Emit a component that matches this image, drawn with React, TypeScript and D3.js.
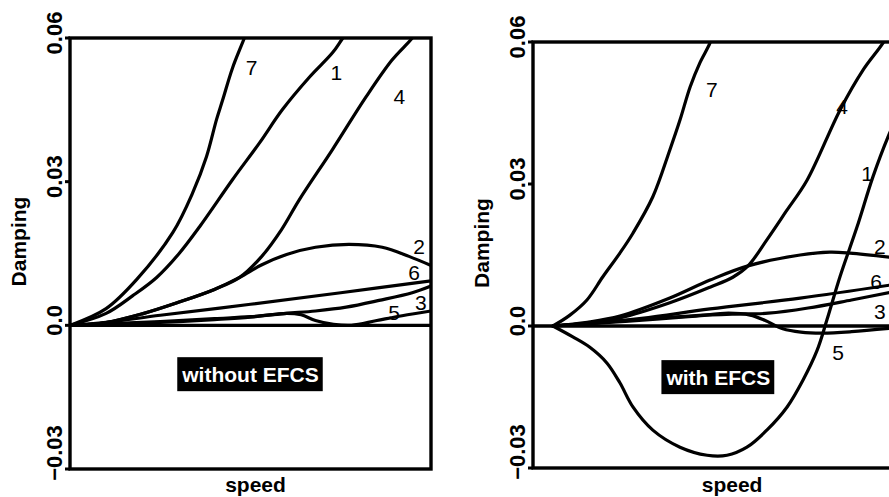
import React, { useEffect, useRef } from 'react';
import * as d3 from 'd3';

type Pt = [number, number];

// ---- axis ticks ----
const tickValues: number[] = [0.06, 0.03, 0.0, -0.03];
const tickLabels: string[] = ['0.06', '0.03', '0.0', '\u22120.03'];
const yTitle = 'Damping';
const xTitle = 'speed';

// ---- panel A: without EFCS (x = normalised speed, y = damping) ----
const without1: Pt[] = [[0, 0], [0.1, 0.0025], [0.174, 0.0062], [0.24, 0.0100], [0.3, 0.0148], [0.359, 0.0206], [0.45, 0.0304], [0.525, 0.0381], [0.588, 0.045], [0.663, 0.0518], [0.727, 0.0569], [0.754, 0.0598], [0.78, 0.0625]];
const without2: Pt[] = [[0, 0], [0.1, 0.0006], [0.2, 0.0024], [0.3, 0.0048], [0.4, 0.0075], [0.47, 0.0100], [0.53, 0.0126], [0.6, 0.0148], [0.68, 0.0163], [0.773, 0.0169], [0.865, 0.0163], [0.939, 0.0144], [1.0, 0.0125]];
const without3: Pt[] = [[0, 0], [0.1, 0.0003], [0.25, 0.0008], [0.4, 0.0014], [0.5, 0.0018], [0.6, 0.0025], [0.68, 0.003], [0.765, 0.0038], [0.856, 0.0052], [0.948, 0.0068], [1.0, 0.0082]];
const without4: Pt[] = [[0, 0], [0.1, 0.0006], [0.2, 0.0024], [0.3, 0.0048], [0.4, 0.0075], [0.47, 0.0100], [0.53, 0.0143], [0.586, 0.0200], [0.635, 0.0262], [0.727, 0.0367], [0.82, 0.0477], [0.892, 0.0554], [0.948, 0.0600], [0.97, 0.0625]];
const without5: Pt[] = [[0, 0], [0.1, 0.0002], [0.25, 0.0006], [0.4, 0.0012], [0.5, 0.0017], [0.6, 0.0025], [0.64, 0.0022], [0.68, 0.0010], [0.73, 0.0002], [0.78, 0.0], [0.85, 0.0010], [0.92, 0.0020], [1.0, 0.0030]];
const without6: Pt[] = [[0, 0], [0.1, 0.0006], [0.25, 0.0021], [0.5, 0.0044], [0.75, 0.0068], [1.0, 0.0093]];
const without7: Pt[] = [[0, 0], [0.1, 0.0035], [0.185, 0.0096], [0.285, 0.0194], [0.34, 0.0277], [0.378, 0.0352], [0.406, 0.0430], [0.423, 0.0471], [0.45, 0.0537], [0.483, 0.0600], [0.5, 0.0635]];

// ---- panel B: with EFCS ----
const with1: Pt[] = [[0.055, 0], [0.11, -0.0023], [0.157, -0.0045], [0.204, -0.0078], [0.24, -0.0120], [0.276, -0.0171], [0.331, -0.022], [0.406, -0.0256], [0.481, -0.0273], [0.536, -0.0273], [0.591, -0.0256], [0.646, -0.022], [0.702, -0.0171], [0.746, -0.0114], [0.785, -0.0051], [0.812, 0.0013], [0.848, 0.0104], [0.895, 0.0209], [0.939, 0.0315], [0.981, 0.0400], [1.0, 0.0432]];
const with2: Pt[] = [[0.055, 0], [0.15, 0.0008], [0.24, 0.0021], [0.378, 0.0059], [0.489, 0.0097], [0.594, 0.0127], [0.738, 0.0150], [0.82, 0.0156], [0.876, 0.0154], [1.0, 0.0144]];
const with3: Pt[] = [[0.055, 0], [0.2, 0.0008], [0.35, 0.0017], [0.45, 0.0022], [0.55, 0.0025], [0.65, 0.0027], [0.76, 0.0038], [0.88, 0.0055], [1.0, 0.0073]];
const with4: Pt[] = [[0.055, 0], [0.15, 0.0006], [0.24, 0.0017], [0.378, 0.0049], [0.489, 0.0082], [0.552, 0.0103], [0.594, 0.0127], [0.646, 0.0182], [0.7, 0.0243], [0.757, 0.0308], [0.848, 0.0456], [0.912, 0.0541], [0.967, 0.0598], [0.99, 0.0630]];
const with5: Pt[] = [[0.055, 0], [0.2, 0.0007], [0.35, 0.0015], [0.45, 0.0021], [0.54, 0.0027], [0.6, 0.0023], [0.64, 0.0012], [0.69, -0.0006], [0.74, -0.0013], [0.8, -0.0015], [0.88, -0.0012], [1.0, -0.0004]];
const with6: Pt[] = [[0.055, 0], [0.15, 0.0005], [0.3, 0.0016], [0.489, 0.0036], [0.738, 0.0059], [1.0, 0.0088]];
const with7: Pt[] = [[0.055, 0], [0.102, 0.0023], [0.149, 0.0055], [0.193, 0.0104], [0.24, 0.0154], [0.276, 0.0196], [0.331, 0.0273], [0.378, 0.0372], [0.406, 0.0435], [0.434, 0.0505], [0.461, 0.0556], [0.489, 0.0598], [0.5, 0.0625]];

// ---- mode names and label anchors (data coords) ----
const modeNames: string[] = ['1', '2', '3', '4', '5', '6', '7'];
const withoutLabelAt: Pt[] = [[0.738, 0.0529], [0.967, 0.0165], [0.972, 0.0048], [0.912, 0.0477], [0.898, 0.0027], [0.953, 0.0110], [0.503, 0.0538]];
const withLabelAt: Pt[] = [[0.923, 0.0323], [0.958, 0.0167], [0.958, 0.0030], [0.854, 0.0463], [0.843, -0.0055], [0.948, 0.0093], [0.494, 0.0499]];

const panelTitles: string[] = ['without EFCS', 'with EFCS'];
const titleBoxAt: Pt[] = [[0.5, -0.0102], [0.512, -0.0108]];

const panels = [
  { x0: 70, x1: 431, yTop: 38, yBottom: 469, series: [without1, without2, without3, without4, without5, without6, without7], labels: withoutLabelAt, xTitleAt: 0.514 },
  { x0: 533, x1: 895, yTop: 42, yBottom: 468, series: [with1, with2, with3, with4, with5, with6, with7], labels: withLabelAt, xTitleAt: 0.55 },
];

export default function App() {
  const ref = useRef<SVGSVGElement>(null);
  useEffect(() => {
    const svg = d3.select(ref.current!);
    svg.selectAll('*').remove();
    const font = '"Liberation Sans", Arial, Helvetica, sans-serif';
    const defs = svg.append('defs');

    panels.forEach((p, i) => {
      const x = d3.scaleLinear().domain([0, 1]).range([p.x0, p.x1]);
      const y = d3.scaleLinear().domain([-0.03, 0.06]).range([p.yBottom, p.yTop]);
      const clipId = 'plotclip' + i;
      defs.append('clipPath').attr('id', clipId).append('rect')
        .attr('x', p.x0).attr('y', p.yTop).attr('width', p.x1 - p.x0).attr('height', p.yBottom - p.yTop);

      const g = svg.append('g');
      const line = d3.line<Pt>().x(d => x(d[0])).y(d => y(d[1])).curve(d3.curveCatmullRom.alpha(0.5));

      // zero line
      g.append('line').attr('x1', p.x0).attr('x2', p.x1).attr('y1', y(0)).attr('y2', y(0))
        .attr('stroke', '#000').attr('stroke-width', 3.4);

      // curves
      const cg = g.append('g').attr('clip-path', `url(#${clipId})`);
      p.series.forEach(s => {
        cg.append('path').attr('d', line(s)!).attr('fill', 'none')
          .attr('stroke', '#000').attr('stroke-width', 3.2).attr('stroke-linejoin', 'round').attr('stroke-linecap', 'round');
      });

      // frame
      g.append('rect').attr('x', p.x0).attr('y', p.yTop).attr('width', p.x1 - p.x0).attr('height', p.yBottom - p.yTop)
        .attr('fill', 'none').attr('stroke', '#000').attr('stroke-width', 3.4);

      // ticks
      tickValues.forEach((v, k) => {
        g.append('line').attr('x1', p.x0 - 5).attr('x2', p.x0).attr('y1', y(v)).attr('y2', y(v))
          .attr('stroke', '#000').attr('stroke-width', 3);
        const ty = Math.min(y(v) - 5, p.yBottom - 16);
        g.append('text').attr('transform', `translate(${p.x0 - 16},${ty}) rotate(-90)`)
          .attr('text-anchor', 'middle').attr('dominant-baseline', 'central')
          .attr('font-family', font).attr('font-weight', 'bold').attr('font-size', 22).attr('fill', '#000')
          .text(tickLabels[k]);
      });

      // y title
      const midY = (p.yTop + p.yBottom) / 2 - 12;
      g.append('text').attr('transform', `translate(${p.x0 - 52},${midY}) rotate(-90)`)
        .attr('text-anchor', 'middle').attr('dominant-baseline', 'central')
        .attr('font-family', font).attr('font-weight', 'bold').attr('font-size', 21).attr('fill', '#000')
        .text(yTitle);

      // x title
      g.append('text').attr('x', x(p.xTitleAt)).attr('y', 492).attr('text-anchor', 'middle')
        .attr('font-family', font).attr('font-weight', 'bold').attr('font-size', 21).attr('fill', '#000')
        .text(xTitle);

      // mode labels
      p.labels.forEach((l, k) => {
        g.append('text').attr('x', x(l[0])).attr('y', y(l[1])).attr('text-anchor', 'middle')
          .attr('dominant-baseline', 'central')
          .attr('font-family', font).attr('font-size', 21).attr('fill', '#000')
          .text(modeNames[k]);
      });

      // panel title box
      const [bx, by] = titleBoxAt[i];
      const tb = g.append('g');
      const rect = tb.append('rect').attr('fill', '#000');
      const t = tb.append('text').attr('x', x(bx)).attr('y', y(by)).attr('text-anchor', 'middle')
        .attr('dominant-baseline', 'central')
        .attr('font-family', font).attr('font-weight', 'bold').attr('font-size', 21).attr('fill', '#fff')
        .text(panelTitles[i]);
      const bb = (t.node() as SVGTextElement).getBBox();
      rect.attr('x', bb.x - 4).attr('y', y(by) - 17).attr('width', bb.width + 8).attr('height', 34);
    });
  }, []);
  return (
    <svg ref={ref} width={889} height={497}
      style={{ position: 'absolute', left: 0, top: 0, background: '#fff', display: 'block' }} />
  );
}
